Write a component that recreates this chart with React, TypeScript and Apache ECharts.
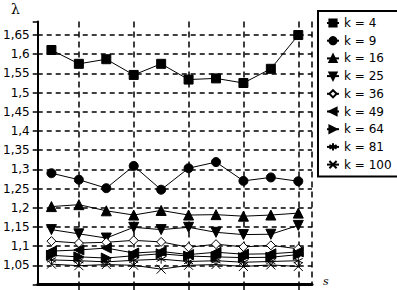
import React, { useEffect, useRef } from "react";
import * as echarts from "echarts";

const S_VALUES = ["1", "2", "3", "4", "5", "6", "7", "8", "9", "10"];
const S_SLOTS = ["0.5", "1", "1.5", "2", "2.5", "3", "3.5", "4", "4.5", "5", "5.5", "6", "6.5", "7", "7.5", "8", "8.5", "9", "9.5", "10", "10.5"];
const GRID_S = ["2", "4", "6", "8", "10"];

const K4 = [1.611, 1.575, 1.587, 1.546, 1.575, 1.534, 1.537, 1.525, 1.562, 1.65];
const K9 = [1.29, 1.273, 1.251, 1.309, 1.247, 1.303, 1.319, 1.27, 1.279, 1.269];
const K16 = [1.203, 1.208, 1.192, 1.181, 1.193, 1.181, 1.182, 1.178, 1.181, 1.186];
const K25 = [1.143, 1.132, 1.121, 1.149, 1.143, 1.149, 1.136, 1.13, 1.131, 1.154];
const K36 = [1.113, 1.108, 1.11, 1.115, 1.111, 1.097, 1.105, 1.098, 1.102, 1.093];
const K49 = [1.087, 1.09, 1.095, 1.082, 1.086, 1.078, 1.084, 1.079, 1.08, 1.085];
const K64 = [1.076, 1.072, 1.069, 1.075, 1.08, 1.074, 1.072, 1.07, 1.071, 1.078];
const K81 = [1.064, 1.062, 1.059, 1.063, 1.066, 1.06, 1.062, 1.058, 1.06, 1.062];
const K100 = [1.053, 1.049, 1.052, 1.05, 1.04, 1.05, 1.052, 1.047, 1.051, 1.047];

const SERIES_NAMES = ["k = 4", "k = 9", "k = 16", "k = 25", "k = 36", "k = 49", "k = 64", "k = 81", "k = 100"];

const ASTERISK = "path://M5 0 L5 10 M0.7 2.5 L9.3 7.5 M0.7 7.5 L9.3 2.5";
const CROSS = "path://M0 0 L10 10 M0 10 L10 0";

export default function App() {
  const ref = useRef<HTMLDivElement>(null);
  useEffect(() => {
    document.body.style.margin = "0";
    const chart = echarts.init(ref.current!, null, { renderer: "svg" });
    const allData = [K4, K9, K16, K25, K36, K49, K64, K81, K100];
    const symbols: any[] = [
      { symbol: "rect", size: 9, rotate: 0, fill: "#000" },
      { symbol: "circle", size: 9, rotate: 0, fill: "#000" },
      { symbol: "triangle", size: 10, rotate: 0, fill: "#000" },
      { symbol: "triangle", size: 10, rotate: 180, fill: "#000" },
      { symbol: "diamond", size: 9, rotate: 0, fill: "#fff" },
      { symbol: "triangle", size: 10, rotate: 90, fill: "#000" },
      { symbol: "triangle", size: 10, rotate: -90, fill: "#000" },
      { symbol: ASTERISK, size: 9, rotate: 0, fill: "#000" },
      { symbol: CROSS, size: 9, rotate: 0, fill: "#000" },
    ];
    const series = allData.map((vals, i) => ({
      name: SERIES_NAMES[i],
      type: "line",
      data: vals.map((v, j) => [S_VALUES[j], v]),
      symbol: symbols[i].symbol,
      symbolSize: symbols[i].size,
      symbolRotate: symbols[i].rotate,
      showAllSymbol: true,
      lineStyle: { color: "#000", width: 1 },
      itemStyle: { color: symbols[i].fill, borderColor: "#000", borderWidth: 1, opacity: 1 },
      emphasis: { disabled: true },
      z: 3,
    }));
    const fmt = (v: number) => {
      const r = Math.round(v * 100) / 100;
      if (Math.abs(r - v) > 1e-6) return "";
      if (r <= 1.0001) return "";
      return String(r).replace(".", ",");
    };
    chart.setOption({
      animation: false,
      backgroundColor: "#fff",
      textStyle: { fontFamily: "DejaVu Sans" },
      grid: { left: 37, right: 85, top: 21.6, bottom: 5.5, containLabel: false },
      xAxis: {
        type: "category",
        data: S_SLOTS,
        boundaryGap: false,
        axisLine: { show: true, lineStyle: { color: "#000", width: 3 } },
        axisTick: {
          show: true,
          length: 6,
          lineStyle: { color: "#000", width: 1.5 },
          interval: (_i: number, v: string) => GRID_S.includes(v),
        },
        axisLabel: { show: false },
        splitLine: {
          show: true,
          interval: (_i: number, v: string) => GRID_S.includes(v) || v === "10.5",
          lineStyle: { color: "#000", width: 1.5, type: [6, 4] },
        },
      },
      yAxis: {
        type: "value",
        min: 1.0,
        max: 1.685,
        interval: 0.05,
        axisLine: { show: true, lineStyle: { color: "#000", width: 2 } },
        axisTick: { show: true, length: 5, lineStyle: { color: "#000", width: 1.5 } },
        axisLabel: {
          color: "#000",
          fontSize: 12,
          fontFamily: "DejaVu Sans",
          margin: 8,
          formatter: fmt,
        },
        splitLine: {
          show: true,
          showMinLine: false,
          showMaxLine: false,
          lineStyle: { color: "#000", width: 1.5, type: [5, 4] },
        },
      },
      legend: {
        orient: "vertical",
        left: 318,
        top: 11,
        padding: [5, 7, 5, 8],
        itemWidth: 12,
        itemHeight: 9,
        itemGap: 3.7,
        borderColor: "#000",
        borderWidth: 2,
        borderRadius: 0,
        data: SERIES_NAMES,
        textStyle: { color: "#000", fontSize: 12, fontFamily: "DejaVu Sans", lineHeight: 14 },
      },
      graphic: [
        {
          type: "text",
          left: 11,
          top: 2,
          style: { text: "λ", fill: "#000", font: "14px 'DejaVu Serif'" },
        },
        {
          type: "text",
          left: 323,
          top: 276,
          style: { text: "s", fill: "#000", font: "italic 11px 'DejaVu Serif'" },
        },
      ],
      series,
    });
    return () => chart.dispose();
  }, []);
  return <div ref={ref} style={{ width: 397, height: 290 }} />;
}
